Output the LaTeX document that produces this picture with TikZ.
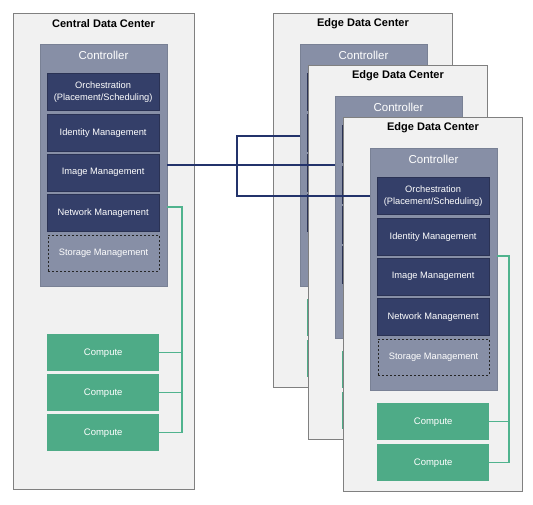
\documentclass[tikz,border=0pt]{standalone}
\usepackage{fontspec}
\setmainfont{Liberation Sans}
\definecolor{dcfill}{HTML}{F1F1F1}
\definecolor{dcline}{HTML}{808080}
\definecolor{ctrlfill}{HTML}{878FA6}
\definecolor{innerfill}{HTML}{343F69}
\definecolor{compfill}{HTML}{4EAB87}
\definecolor{navyline}{HTML}{23336B}
\definecolor{greenline}{HTML}{50B38E}
\newif\ifinnertext
\innertexttrue
\tikzset{
  dcbox/.style={draw=dcline, fill=dcfill, line width=0.9pt, anchor=north west, inner sep=0pt},
  dctitle/.style={font=\fontsize{11}{13}\selectfont\bfseries, text=black, inner sep=0pt},
  ctrlbox/.style={fill=ctrlfill, draw=ctrlfill!90!black, line width=0.3pt, anchor=north west, minimum width=127pt, minimum height=242pt, inner sep=0pt},
  ctrllabel/.style={font=\fontsize{11.5}{13}\selectfont, text=white, inner sep=0pt},
  innerbox/.style={fill=innerfill, draw=innerfill!80!black, line width=0.3pt, anchor=north west, minimum width=112pt, minimum height=37pt, inner sep=0pt, text=white, align=center, font=\fontsize{9.3}{12}\selectfont},
  storebox/.style={fill=ctrlfill, draw=black!85, dashed, dash pattern=on 2pt off 2pt, line width=1.1pt, anchor=north west, minimum width=111pt, minimum height=36pt, inner sep=0pt, text=white, font=\fontsize{9.3}{12}\selectfont},
  compbox/.style={fill=compfill, anchor=north west, minimum width=112pt, minimum height=37pt, inner sep=0pt, text=white, font=\fontsize{9.5}{12}\selectfont},
  navy/.style={draw=navyline, line width=1.5pt},
  greenl/.style={draw=greenline, line width=1.5pt},
}
\newcommand\itxt[1]{\ifinnertext#1\fi}
\newcommand\ctrlblock[3]{%
  \node[ctrlbox] (#1ctrl) at (#2,#3) {};
  \node[ctrllabel] (#1ctrllabel) at (#2+63.5,#3+11) {Controller};
  \node[innerbox] (#1orch) at (#2+7,#3+29) {\itxt{Orchestration\\(Placement/Scheduling)}};
  \node[innerbox] (#1ident) at (#2+7,#3+70) {\itxt{Identity Management}};
  \node[innerbox] (#1image) at (#2+7,#3+110) {\itxt{Image Management}};
  \node[innerbox] (#1net) at (#2+7,#3+150) {\itxt{Network Management}};
  \node[storebox] (#1store) at (#2+7.5,#3+190.5) {\itxt{Storage Management}};
}
\newcommand\edgedc[3]{%
  \node[dcbox, minimum width=179pt, minimum height=374pt] (#1box) at (#2,#3) {};
  \node[dctitle] (#1title) at (#2+90,#3+11) {Edge Data Center};
  \ctrlblock{#1}{#2+27}{#3+31}
  \node[compbox] (#1compa) at (#2+34,#3+286) {\itxt{Compute}};
  \node[compbox] (#1compb) at (#2+34,#3+327) {\itxt{Compute}};
  \coordinate (#1g) at (#2+166,#3+139);
  \draw[greenl] (#1g -| #1ctrl.east) -- (#1g) |- (#1compb.east);
  \draw[greenl] (#1compa.east) -- (#1compa.east -| #1g);
}
\begin{document}
\begin{tikzpicture}[x=1pt,y=-1pt]
\useasboundingbox (0,0) rectangle (533,504);
% central data center
\node[dcbox, minimum width=181pt, minimum height=476pt] (cbox) at (13,13) {};
\node[dctitle] (ctitle) at (103.5,24) {Central Data Center};
\ctrlblock{c}{40}{44}
\node[compbox] (ccompa) at (47,334) {Compute};
\node[compbox] (ccompb) at (47,374) {Compute};
\node[compbox] (ccompc) at (47,414) {Compute};
\coordinate (cg) at (182,207);
\draw[greenl] (cg -| cctrl.east) -- (cg) |- (ccompc.east);
\draw[greenl] (ccompa.east) -- (ccompa.east -| cg);
\draw[greenl] (ccompb.east) -- (ccompb.east -| cg);
% edge data centers (back ones have their hidden texts left out)
\innertextfalse
\edgedc{ea}{273}{13}
\edgedc{eb}{308}{65}
\innertexttrue
\edgedc{ec}{343}{117}
% navy links
\coordinate (jtop) at (237,136);
\coordinate (jbot) at (237,196);
\draw[navy] (cctrl.east) -- (cctrl.east -| ebctrl.west);
\draw[navy] (jtop -| eactrl.west) -- (jtop) -- (jbot) -- (jbot -| ecctrl.west);
\end{tikzpicture}
\end{document}
